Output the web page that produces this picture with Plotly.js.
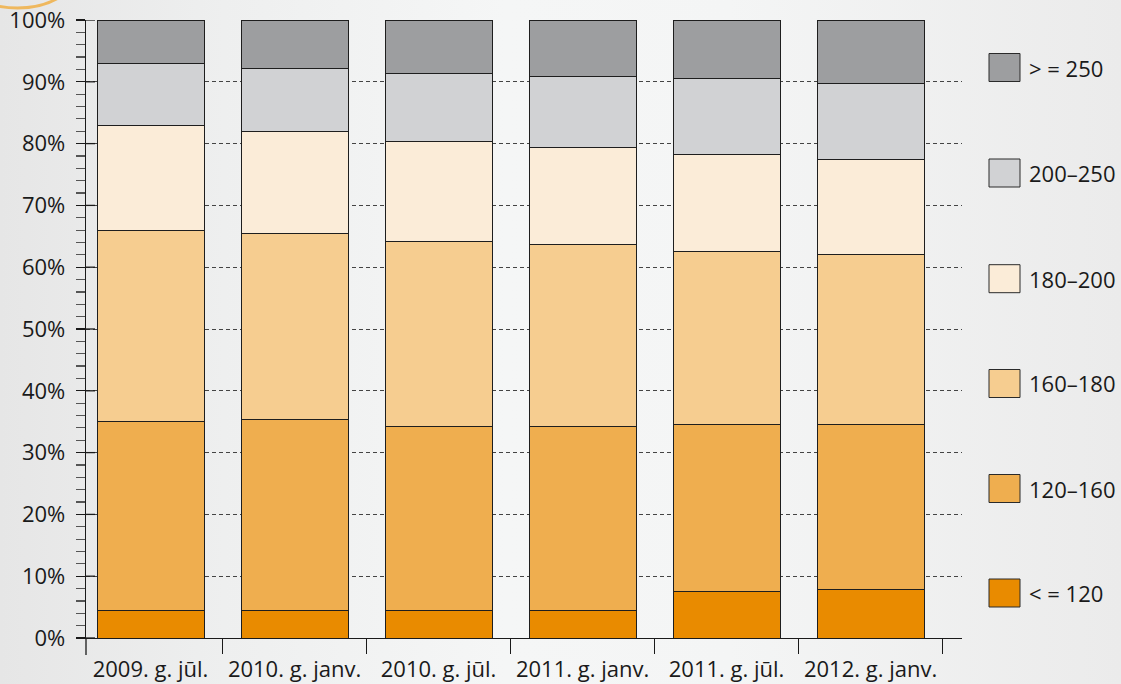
<!DOCTYPE html>
<html>
<head>
<meta charset="utf-8">
<script src="https://cdn.plot.ly/plotly-3.0.1.min.js"></script>
<style>
html,body{margin:0;padding:0;}
body{width:1121px;height:684px;overflow:hidden;
background:linear-gradient(to right,#E6E6E6 0%,#EEEFEF 20%,#F5F6F6 45%,#F4F5F5 65%,#EBEBEB 100%);}
#chart{width:1121px;height:684px;}
</style>
</head>
<body>
<div id="chart"></div>
<script>
// ---- data (percent shares of each bar segment) ----
const categories = ["2009. g. jūl.", "2010. g. janv.", "2010. g. jūl.", "2011. g. janv.", "2011. g. jūl.", "2012. g. janv."];
const seriesNames = ["< = 120", "120–160", "160–180", "180–200", "200–250", "> = 250"];
const s_le120   = [4.4, 4.4, 4.4, 4.4, 7.6, 7.9];
const s_120_160 = [30.6, 30.9, 29.9, 29.9, 27.0, 26.6];
const s_160_180 = [31.0, 30.2, 29.9, 29.3, 28.0, 27.6];
const s_180_200 = [17.0, 16.4, 16.2, 15.8, 15.6, 15.4];
const s_200_250 = [10.0, 10.3, 11.0, 11.5, 12.3, 12.3];
const s_ge250   = [7.0, 7.8, 8.6, 9.1, 9.5, 10.2];
const yTickVals = [0,10,20,30,40,50,60,70,80,90,100];
const yTickText = ["0%","10%","20%","30%","40%","50%","60%","70%","80%","90%","100%"];

const seriesValues = [s_le120, s_120_160, s_160_180, s_180_200, s_200_250, s_ge250];
const colors = ["#E98B00", "#EFAE4F", "#F6CD90", "#FBECD8", "#D1D2D4", "#9D9EA0"];

const traces = seriesValues.map((vals, i) => ({
  type: "bar",
  x: categories,
  y: vals,
  name: seriesNames[i],
  width: 0.743,
  marker: {color: colors[i], line: {color: "#1e1e1e", width: 1}},
  hoverinfo: "name+y",
  showlegend: false
}));

const W = 1121, H = 684;
const mL = 86, mR = 159, mT = 20, mB = 46;
const pw = W - mL - mR, ph = H - mT - mB;
const px2x = p => (p - mL) / pw;
const py2y = p => (H - mB - p) / ph;

const shapes = [];
const annotations = [];
const FONT = "Open Sans, sans-serif";

// custom legend (top item = last series)
const legendCenters = [593, 488.5, 383.5, 278.7, 173, 67.5];
seriesNames.forEach((nm, i) => {
  const cy = legendCenters[i];
  shapes.push({type: "rect", xref: "paper", yref: "paper",
    x0: px2x(989), x1: px2x(1020), y0: py2y(cy + 14), y1: py2y(cy - 14),
    fillcolor: colors[i], line: {color: "#2a2a2a", width: 1}});
  annotations.push({xref: "paper", yref: "paper", x: px2x(1027), y: py2y(cy),
    xanchor: "left", yanchor: "middle", text: nm, showarrow: false,
    font: {size: 22, color: "#1a1a1a", family: FONT}});
});

// major ticks crossing into the plot
yTickVals.forEach(v => {
  shapes.push({type: "line", xref: "paper", yref: "y", x0: 0, x1: 9 / pw, y0: v, y1: v,
    line: {color: "#1a1a1a", width: 1.3}});
});
// y axis line extension below x axis
shapes.push({type: "line", xref: "paper", yref: "paper", x0: 0, x1: 0, y0: 0, y1: -17 / ph,
  line: {color: "#1a1a1a", width: 1.3}});
// decorative orange arc at top-left
shapes.push({type: "circle", xref: "paper", yref: "paper", layer: "below",
  x0: px2x(-40), x1: px2x(75), y0: py2y(8), y1: py2y(-60),
  line: {color: "#EFB85E", width: 3}});

const layout = {
  width: W, height: H,
  margin: {l: mL, r: mR, t: mT, b: mB, pad: 0},
  paper_bgcolor: "rgba(0,0,0,0)",
  plot_bgcolor: "rgba(0,0,0,0)",
  barmode: "stack",
  showlegend: false,
  font: {family: FONT, color: "#1a1a1a", size: 22},
  xaxis: {
    type: "category",
    range: [-0.448, 5.635],
    showline: true, linecolor: "#1a1a1a", linewidth: 1.3,
    ticks: "outside", tickson: "boundaries", ticklen: 15, tickcolor: "#1a1a1a", tickwidth: 1.3,
    ticklabelstandoff: 11,
    showgrid: false, zeroline: false,
    tickfont: {size: 22, color: "#1a1a1a", family: FONT}
  },
  yaxis: {
    range: [0, 100], autorange: false,
    tickvals: yTickVals, ticktext: yTickText,
    showline: true, linecolor: "#1a1a1a", linewidth: 1.3,
    ticks: "outside", ticklen: 9, tickcolor: "#1a1a1a", tickwidth: 1.3,
    ticklabelstandoff: 6,
    showgrid: true, gridcolor: "#444", griddash: "4px,3px", gridwidth: 1,
    zeroline: false,
    minor: {dtick: 2, ticks: "outside", ticklen: 9, tickcolor: "#555", tickwidth: 1.2, showgrid: false},
    tickfont: {size: 22, color: "#1a1a1a", family: FONT}
  },
  shapes: shapes,
  annotations: annotations
};

Plotly.newPlot("chart", traces, layout, {displayModeBar: false, staticPlot: true});
</script>
</body>
</html>
